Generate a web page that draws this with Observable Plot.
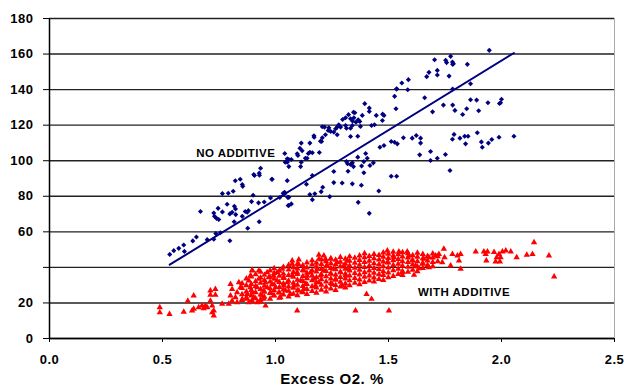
<!DOCTYPE html>
<html><head><meta charset="utf-8">
<script src="https://cdn.jsdelivr.net/npm/d3@7"></script>
<script src="https://cdn.jsdelivr.net/npm/@observablehq/plot@0.6"></script>
<style>
html,body{margin:0;padding:0;background:#fff;}
#chart svg{display:block;}
</style></head><body><div id="chart"></div>
<script>
const xTicks = [0, 0.5, 1, 1.5, 2, 2.5];
const xTickLabels = ["0.0", "0.5", "1.0", "1.5", "2.0", "2.5"];
const yTicks = [0, 20, 40, 60, 80, 100, 120, 140, 160, 180];
const yTickLabels = ["0", "20", "", "60", "80", "100", "120", "140", "160", "180"];
const xTitle = "Excess O2. %";
const seriesNames = ["NO ADDITIVE", "WITH ADDITIVE"];
const labelX = [0.649, 1.630];
const labelY = [104, 25.9];
const fitX = [0.532, 2.055];
const fitY = [41.5, 160.6];

const noAdditive = [
[0.532,47.3],[0.550,49.4],[0.572,50.7],[0.594,52.6],[0.597,49.0],[0.634,54.9],[0.650,57.1],[0.668,71.4],[0.698,55.6],[0.727,55.8],[0.736,59.0],[0.756,59.5],[0.798,55.0],[0.727,70.6],[0.730,68.7],[0.739,67.6],[0.749,66.9],[0.746,73.2],[0.765,71.2],[0.765,81.5],[0.791,81.7],[0.786,75.5],[0.813,82.8],[0.822,88.7],[0.844,89.6],[0.853,86.6],[0.855,85.6],[0.798,70.1],[0.808,71.0],[0.818,74.4],[0.823,72.9],[0.824,69.7],[0.817,65.7],[0.853,68.7],[0.866,71.4],[0.875,71.0],[0.880,71.9],[0.877,62.0],[0.901,80.6],[0.894,77.0],[0.904,92.2],[0.907,91.7],[0.925,76.3],[0.928,65.7],[0.928,93.0],[0.929,91.8],[0.934,95.8],[0.950,76.8],[0.978,79.1],[0.984,89.6],[1.019,79.3],[1.040,82.3],[1.054,79.4],[1.056,74.8],[1.052,88.8],[1.052,99.2],
[1.536,140.5],[1.527,136.2],[1.533,129.2],[1.395,132.1],[1.415,129.6],[1.415,127.7],[1.345,127.3],[1.351,127.0],[1.323,125.9],[1.297,123.2],[1.310,124.2],[1.332,123.6],[1.347,124.2],[1.341,122.3],[1.366,123.0],[1.373,122.1],[1.356,121.7],[1.384,125.5],[1.446,125.5],[1.474,126.2],[1.480,125.5],[1.473,122.6],[1.438,120.2],[1.425,119.8],[1.376,119.3],[1.340,119.8],[1.332,118.3],[1.314,118.3],[1.310,119.8],[1.280,120.2],[1.273,118.9],[1.266,118.0],[1.288,118.9],[1.258,116.1],[1.273,114.6],[1.236,118.5],[1.233,117.0],[1.244,116.5],[1.207,119.1],[1.217,118.9],[1.221,114.6],[1.207,112.9],[1.199,111.0],[1.204,110.8],[1.170,114.0],[1.171,113.2],[1.152,109.9],[1.332,113.6],[1.364,113.8],[1.114,109.9],[1.108,107.0],[1.118,105.6],[1.096,103.9],[1.099,102.9],[1.132,101.4],[1.140,101.4],[1.152,104.8],[1.163,104.5],[1.145,104.1],[1.194,104.6],[1.041,104.1],[1.052,101.1],[1.059,100.7],[1.043,99.2],[1.059,96.7],[1.070,100.7],[1.114,99.2],[1.111,96.7],[0.985,89.6],[1.137,86.8],[1.163,91.7],[1.034,81.7],[1.041,81.4],[1.059,79.4],[1.059,74.8],[1.070,75.7],[1.152,81.0],[1.174,81.4],[1.163,78.1],[1.202,82.6],[1.209,85.1],[1.240,79.8],[1.258,87.7],[1.258,93.9],[1.295,87.5],[1.340,87.0],[1.380,86.2],[1.366,76.6],[1.415,70.4],[1.457,83.0],[1.314,99.5],[1.319,98.3],[1.332,97.9],[1.340,98.8],[1.345,96.7],[1.321,94.1],[1.364,102.0],[1.381,97.0],[1.391,93.2],[1.399,104.1],[1.406,101.4],[1.391,99.5],[1.418,97.3],[1.433,98.8],[1.462,107.6],[1.480,108.6],[1.512,110.8],[1.527,110.4],[1.539,109.5],[1.512,91.3],[1.536,91.3],
[1.946,162.1],[1.775,158.7],[1.704,156.8],[1.753,156.5],[1.757,155.2],[1.783,155.5],[1.784,154.2],[1.787,154.6],[1.849,154.2],[1.716,150.8],[1.716,148.2],[1.679,149.7],[1.669,147.3],[1.768,147.6],[1.588,145.6],[1.559,143.7],[1.536,140.3],[1.585,139.9],[1.863,143.3],[1.784,140.3],[1.660,135.4],[1.863,134.3],[1.890,134.1],[1.743,131.3],[1.784,131.3],[1.794,128.3],[1.846,129.2],[1.828,126.0],[1.899,128.1],[1.695,127.5],[1.940,132.6],[2.000,134.6],[1.996,132.6],[1.991,132.2],[1.566,112.9],[1.605,112.7],[1.623,114.2],[1.642,112.7],[1.642,109.9],[1.638,103.3],[1.686,105.2],[1.686,100.1],[1.716,101.4],[1.752,103.5],[1.772,94.5],[1.783,112.1],[1.790,114.8],[1.816,112.7],[1.837,113.8],[1.852,113.8],[1.841,109.5],[1.893,115.7],[1.911,110.6],[1.915,107.6],[1.942,109.9],[1.957,111.9],[1.989,113.2],[2.055,113.8]
];

const withAdditive = [
[0.488,17.5],[0.488,14.6],[0.531,13.7],[0.594,15.0],[0.612,21.2],[0.638,24.1],[0.631,15.6],[0.638,16.6],[0.660,17.5],[0.675,18.4],[0.690,18.4],[0.698,17.5],[0.682,16.9],[0.712,26.9],[0.734,27.8],[0.712,24.5],[0.734,24.5],[0.712,21.2],[0.720,18.4],[0.727,15.6],[0.720,14.6],[0.727,12.8],[0.764,19.4],[0.793,19.4],[0.808,21.2],[0.801,24.1],[0.808,27.8],[0.801,30.6],[0.830,20.3],[0.823,23.1],[0.838,31.5],[0.845,28.7],[0.830,25.9],[0.853,22.2],[0.875,25.0],[0.875,22.2],[0.882,20.3],[0.889,35.3],[0.897,38.1],[0.882,32.5],[0.889,28.7],[0.897,25.9],[0.904,23.1],[0.919,28.7],[0.926,33.5],[0.934,27.8],[0.941,24.1],[0.948,26.9],[0.897,21.2],[0.919,20.3],[0.934,20.7],[0.926,38.1],[0.963,37.2],[0.956,31.5],[0.963,28.7],[0.970,34.4],[0.978,25.9],[0.948,22.2],[0.956,18.4],[0.985,30.6],[0.992,35.3],[1.000,28.7],[1.007,32.5],[0.992,24.1],[1.015,25.9],[1.022,23.1],[1.007,37.2],[1.030,39.1],[1.037,34.4],[1.037,29.7],[1.044,26.9],[1.052,31.5],[1.066,25.0],[1.074,35.3],[1.081,29.7],[1.074,43.8],[1.074,41.9],[1.103,44.3],[1.103,41.5],[1.096,15.6],[1.096,37.2],[1.111,32.5],[1.125,38.1],[1.133,30.6],[1.140,35.3],[1.103,26.9],[1.118,25.9],[1.125,27.8],[1.155,37.2],[1.170,33.5],[1.177,29.7],[1.185,39.1],[1.192,31.5],[1.199,35.3],[1.214,46.6],[1.221,44.7],[1.229,41.0],[1.214,38.1],[1.244,36.3],[1.251,30.6],[1.258,39.1],[1.266,33.5],[1.273,42.8],[1.288,37.2],[1.295,29.7],[1.302,41.0],[1.310,35.3],[1.318,43.8],[1.325,39.1],[1.192,44.7],[1.244,44.7],[1.192,47.0],[0.897,38.5],
[1.354,15.6],[1.502,15.6],[1.403,25.0],[1.425,22.2],[2.144,54.1],[2.233,34.8],[2.210,46.6],[2.112,47.0],[2.137,47.5],[2.067,45.6],[2.041,48.8],[2.019,49.4],[2.004,48.8],[1.989,47.5],[1.979,45.6],[1.996,45.6],[1.974,43.2],[1.993,43.2],[1.967,48.5],[1.938,48.8],[1.930,47.5],[1.922,48.8],[1.933,43.8],[1.886,48.8],[1.819,47.5],[1.812,43.8],[1.819,39.1],[1.805,46.6],[1.783,47.5],[1.775,41.0],[1.745,50.4],[1.748,45.6],[1.738,42.8],[1.709,46.6],[1.723,47.5],[1.679,45.6],[1.679,40.0],[1.657,44.7],[1.650,41.9],[1.613,35.7],[1.635,39.4],[1.620,41.0],[1.583,48.8],[1.590,46.6],[1.605,43.8],[1.561,37.2],[1.546,48.8],[1.524,45.6],[1.495,49.4],[1.495,42.8],
[0.852,21.5],[0.852,24.8],[0.852,28.3],[0.852,31.0],
[0.871,23.0],[0.871,26.4],[0.871,29.9],[0.871,33.6],
[0.893,20.8],[0.893,24.1],[0.893,27.2],[0.893,30.5],[0.893,34.8],
[0.912,22.6],[0.912,25.9],[0.912,29.4],[0.912,32.1],[0.912,36.0],
[0.934,21.9],[0.934,24.7],[0.934,31.3],[0.934,34.2],[0.934,37.5],
[0.951,23.4],[0.951,26.2],[0.951,29.6],[0.951,32.8],[0.951,35.7],
[0.976,22.3],[0.976,25.5],[0.976,28.1],[0.976,31.9],[0.976,34.6],[0.976,38.2],
[0.994,24.2],[0.994,27.0],[0.994,30.3],[0.994,33.5],[0.994,36.8],[0.994,39.4],
[1.017,22.8],[1.017,25.8],[1.017,28.9],[1.017,31.7],[1.017,35.2],[1.017,38.0],
[1.035,24.6],[1.035,27.5],[1.035,30.8],[1.035,33.9],[1.035,36.4],[1.035,40.2],
[1.058,23.5],[1.058,26.7],[1.058,29.2],[1.058,32.4],[1.058,35.6],[1.058,38.7],[1.058,41.3],
[1.079,25.1],[1.079,28.4],[1.079,31.2],[1.079,34.7],[1.079,37.3],[1.079,40.0],
[1.097,24.3],[1.097,27.1],[1.097,30.1],[1.097,33.0],[1.097,36.2],[1.097,39.3],[1.097,42.0],
[1.121,26.0],[1.121,29.5],[1.121,32.3],[1.121,35.1],[1.121,38.4],[1.121,41.1],
[1.139,24.9],[1.139,27.8],[1.139,30.6],[1.139,33.8],[1.139,36.9],[1.139,39.8],[1.139,42.7],
[1.162,26.6],[1.162,29.3],[1.162,32.7],[1.162,35.4],[1.162,38.1],[1.162,41.5],[1.162,43.9],
[1.181,25.7],[1.181,28.6],[1.181,31.5],[1.181,34.4],[1.181,37.6],[1.181,40.3],[1.181,42.5],
[1.203,27.3],[1.203,30.2],[1.203,33.2],[1.203,36.0],[1.203,39.0],[1.203,41.8],[1.203,44.3],
[1.224,26.4],[1.224,29.0],[1.224,32.0],[1.224,34.9],[1.224,37.9],[1.224,40.7],[1.224,43.4],
[1.245,28.0],[1.245,31.1],[1.245,33.7],[1.245,36.6],[1.245,39.5],[1.245,42.3],[1.245,45.0],
[1.266,27.2],[1.266,30.0],[1.266,32.9],[1.266,35.8],[1.266,38.8],[1.266,41.6],[1.266,44.2],
[1.287,29.1],[1.287,31.8],[1.287,34.5],[1.287,37.4],[1.287,40.4],[1.287,43.1],[1.287,45.7],
[1.309,28.6],[1.309,30.9],[1.309,33.6],[1.309,36.3],[1.309,39.2],[1.309,42.0],[1.309,44.8],
[1.328,29.8],[1.328,32.6],[1.328,35.3],[1.328,38.2],[1.328,41.0],[1.328,43.7],[1.328,46.1],
[1.351,31.2],[1.351,34.0],[1.351,36.8],[1.351,39.7],[1.351,42.5],[1.351,45.3],
[1.372,30.4],[1.372,33.1],[1.372,35.9],[1.372,38.6],[1.372,41.4],[1.372,44.0],[1.372,46.6],
[1.394,31.7],[1.394,34.6],[1.394,37.2],[1.394,40.1],[1.394,42.9],[1.394,45.6],[1.394,47.8],
[1.415,32.5],[1.415,35.4],[1.415,38.1],[1.415,40.9],[1.415,43.6],[1.415,46.3],
[1.436,31.9],[1.436,34.2],[1.436,36.9],[1.436,39.6],[1.436,42.3],[1.436,45.0],[1.436,47.4],
[1.458,33.4],[1.458,36.1],[1.458,38.9],[1.458,41.7],[1.458,44.4],[1.458,46.9],
[1.477,32.8],[1.477,35.6],[1.477,37.8],[1.477,40.5],[1.477,43.2],[1.477,45.9],[1.477,48.3],
[1.499,34.3],[1.499,37.0],[1.499,39.9],[1.499,42.6],[1.499,45.2],[1.499,47.6],
[1.521,35.1],[1.521,38.3],[1.521,41.2],[1.521,43.9],[1.521,46.5],[1.521,48.7],
[1.543,36.2],[1.543,39.1],[1.543,42.0],[1.543,44.6],[1.543,47.3],
[1.562,35.6],[1.562,37.9],[1.562,40.8],[1.562,43.4],[1.562,46.0],[1.562,48.4],
[1.586,37.4],[1.586,40.2],[1.586,42.9],[1.586,45.5],[1.586,47.9],
[1.607,38.6],[1.607,41.5],[1.607,44.1],[1.607,46.8],
[1.628,37.8],[1.628,40.4],[1.628,43.3],[1.628,45.9],[1.628,48.2],
[1.652,39.6],[1.652,42.4],[1.652,45.1],[1.652,47.4],
[1.673,41.2],[1.673,43.8],[1.673,46.3],
[1.696,40.6],[1.696,42.9],[1.696,45.4],[1.696,47.7],
[1.718,43.4],[1.718,46.1]
];

const font = "'Liberation Sans', Arial, Helvetica, sans-serif";
const fitLine = fitX.map((x, i) => ({x, y: fitY[i]}));
const labels = seriesNames.map((t, i) => ({t, x: labelX[i], y: labelY[i]}));

const chart = Plot.plot({
  width: 624, height: 385,
  marginLeft: 49, marginRight: 10, marginTop: 18, marginBottom: 47,
  style: {fontFamily: font, background: "#fff", overflow: "visible", letterSpacing: "0.5px"},
  x: {domain: [0, 2.5]},
  y: {domain: [0, 180]},
  marks: [
    Plot.ruleY(yTicks, {stroke: "#222", strokeWidth: 1.4}),
    Plot.ruleX([2.5], {stroke: "#aaa", strokeWidth: 1}),
    Plot.ruleX([0], {stroke: "#000", strokeWidth: 1.5}),
    Plot.ruleY([0], {stroke: "#000", strokeWidth: 1.5}),
    Plot.axisY({ticks: yTicks, tickSize: 6, tickPadding: 10, label: null,
      tickFormat: d => yTickLabels[yTicks.indexOf(d)], fontSize: 13, fontWeight: "bold", fill: "#000"}),
    Plot.axisX({ticks: xTicks, tickSize: 4, tickPadding: 12, label: null,
      tickFormat: d => xTickLabels[xTicks.indexOf(d)], fontSize: 13, fontWeight: "bold", fill: "#000"}),
    Plot.dot(withAdditive, {x: d => d[0], y: d => d[1], symbol: "triangle", r: 2.35, fill: "#ff0000", stroke: "none"}),
    Plot.dot(noAdditive, {x: d => d[0], y: d => d[1], symbol: "diamond2", r: 2.3, fill: "#000080", stroke: "none"}),
    Plot.line(fitLine, {x: "x", y: "y", stroke: "#000080", strokeWidth: 2}),
    Plot.text(labels, {x: "x", y: "y", text: "t", textAnchor: "start", fontSize: 11.5, fontWeight: "bold", fill: "#000"}),
    Plot.text([xTitle], {frameAnchor: "bottom", dy: 45, lineAnchor: "bottom", text: d => d, fontSize: 15, fontWeight: "bold", fill: "#000"})
  ]
});
document.getElementById("chart").appendChild(chart);
</script>
</body></html>
